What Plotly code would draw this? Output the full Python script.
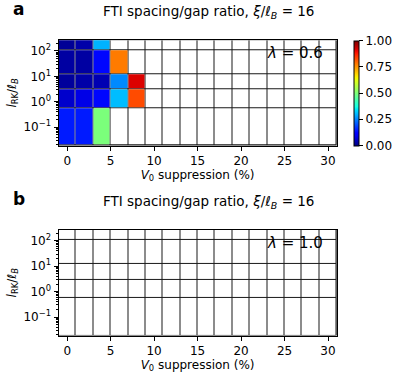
import numpy as np
import plotly.graph_objects as go

# ---------------- data ----------------
x_centers = [0, 2, 4, 6, 8, 10, 12, 14, 16, 18, 20, 22, 24, 26, 28, 30]
x_edges = [-1, 1, 3, 5, 7, 9, 11, 13, 15, 17, 19, 21, 23, 25, 27, 29, 31]
y_edges = [0.019, 0.55, 3, 12.5, 110, 290]          # l_RK / l_B cell edges (bottom -> top)
N = None
ratio_a = [  # rows bottom -> top, columns V0 = 0..30 %
    [0.15, 0.15, 0.50, N, N, N, N, N, N, N, N, N, N, N, N, N],
    [0.066, 0.09, 0.13, 0.31, 0.83, N, N, N, N, N, N, N, N, N, N, N],
    [0.025, 0.035, 0.045, 0.26, 0.92, N, N, N, N, N, N, N, N, N, N, N],
    [0.03, 0.03, 0.13, 0.78, N, N, N, N, N, N, N, N, N, N, N, N],
    [0.02, 0.035, 0.30, N, N, N, N, N, N, N, N, N, N, N, N, N],
]
ratio_b = [[N] * 16 for _ in range(5)]
lambdas = ["0.6", "1.0"]
panel_letters = ["a", "b"]
x_ticks = [0, 5, 10, 15, 20, 25, 30]
y_ticks = [0.1, 1, 10, 100]
y_ticktext = ["10<sup>−1</sup>", "10<sup>0</sup>", "10<sup>1</sup>", "10<sup>2</sup>"]
cbar_ticks = [0, 0.25, 0.5, 0.75, 1.0]

# matplotlib 'jet'
def jet_scale(n=41):
    s = np.linspace(0, 1, n)
    r = np.interp(s, [0, 0.35, 0.66, 0.89, 1], [0, 0, 1, 1, 0.5])
    g = np.interp(s, [0, 0.125, 0.375, 0.64, 0.91, 1], [0, 0, 1, 1, 0, 0])
    b = np.interp(s, [0, 0.11, 0.34, 0.65, 1], [0.5, 1, 1, 0, 0])
    return [[float(v), f"rgb({int(round(rr*255))},{int(round(gg*255))},{int(round(bb*255))})"]
            for v, rr, gg, bb in zip(s, r, g, b)]

JET = jet_scale()
W, H = 416, 382
FONT = "DejaVu Sans"

def px_x(p):
    return p / W

def px_y(p):
    return 1 - p / H

panels = [
    dict(top=40.3, bottom=145.5, z=ratio_a),
    dict(top=230.0, bottom=335.5, z=ratio_b),
]
left, right = 58.5, 336.7

fig = go.Figure()
for i, p in enumerate(panels):
    xa = "x" if i == 0 else "x2"
    ya = "y" if i == 0 else "y2"
    base = [[1] * len(x_centers) for _ in range(len(y_edges) - 1)]
    fig.add_trace(go.Heatmap(
        x=x_edges, y=y_edges, z=base, xaxis=xa, yaxis=ya,
        colorscale=[[0, "white"], [1, "white"]], showscale=False,
        xgap=1, ygap=1, hoverinfo="skip"))
    fig.add_trace(go.Heatmap(
        x=x_edges, y=y_edges, z=p["z"], xaxis=xa, yaxis=ya,
        colorscale=JET, zmin=0, zmax=1, xgap=1, ygap=1,
        colorbar=dict(
            x=px_x(354), xanchor="left", thickness=5,
            y=px_y(p["bottom"]), yanchor="bottom",
            len=(p["bottom"] - p["top"]) / H, lenmode="fraction",
            outlinecolor="black", outlinewidth=1,
            tickvals=cbar_ticks, tickformat=".2f", ticks="outside",
            ticklen=4, tickcolor="black",
            tickfont=dict(family=FONT, size=12, color="black"),
            xpad=0, ypad=0)))

    axcommon = dict(showline=True, linecolor="black", linewidth=1, mirror=True,
                    ticks="outside", ticklen=4, tickcolor="black", showgrid=False,
                    zeroline=False, automargin=False,
                    tickfont=dict(family=FONT, size=12, color="black"))
    xkey = "xaxis" if i == 0 else "xaxis2"
    ykey = "yaxis" if i == 0 else "yaxis2"
    minor_vals = [m * 10.0 ** k for k in range(-2, 3) for m in range(2, 10)]
    fig.update_layout(**{
        xkey: dict(axcommon, domain=[px_x(left), px_x(right)], range=[-1, 31],
                   tickvals=x_ticks, anchor=ya,
                   title=dict(text="<i>V</i><sub>0</sub> suppression (%)", standoff=2,
                              font=dict(family=FONT, size=12, color="black"))),
        ykey: dict(axcommon, type="log", domain=[px_y(p["bottom"]), px_y(p["top"])],
                   range=[-1.72, 2.42], tickvals=y_ticks, ticktext=y_ticktext, anchor=xa,
                   minor=dict(tickvals=minor_vals, ticks="outside", ticklen=2,
                              tickcolor="black", showgrid=False),
                   title=dict(text="<i>l</i><sub>RK</sub>/<i>ℓ</i><sub><i>B</i></sub>",
                              standoff=4,
                              font=dict(family=FONT, size=12, color="black"))),
    })
    # title
    fig.add_annotation(text="FTI spacing/gap ratio, <i>ξ</i>/<i>ℓ</i><sub><i>B</i></sub> = 16",
                       xref="paper", yref="paper", x=px_x(208), y=px_y(p["top"] - 28),
                       xanchor="center", yanchor="middle", showarrow=False,
                       font=dict(family=FONT, size=13.5, color="black"))
    # panel letter
    fig.add_annotation(text=f"<b>{panel_letters[i]}</b>", xref="paper", yref="paper",
                       x=px_x(11), y=px_y(p["top"] - 31), xanchor="left", yanchor="middle",
                       showarrow=False, font=dict(family=FONT, size=17, color="black"))
    # lambda label
    fig.add_annotation(text=f"<i>λ</i> = {lambdas[i]}", xref=xa, yref="paper",
                       x=22.8, y=px_y(p["top"] + 13), xanchor="left", yanchor="middle",
                       showarrow=False, font=dict(family=FONT, size=15, color="black"))

fig.update_layout(template="none", width=W, height=H, margin=dict(l=0, r=0, t=0, b=0),
                  paper_bgcolor="white", plot_bgcolor="#1a1a1a",
                  font=dict(family=FONT, color="black"), showlegend=False)
fig.write_html("out.html", config={"displayModeBar": False},
               post_script="document.body.style.margin='0px';")
